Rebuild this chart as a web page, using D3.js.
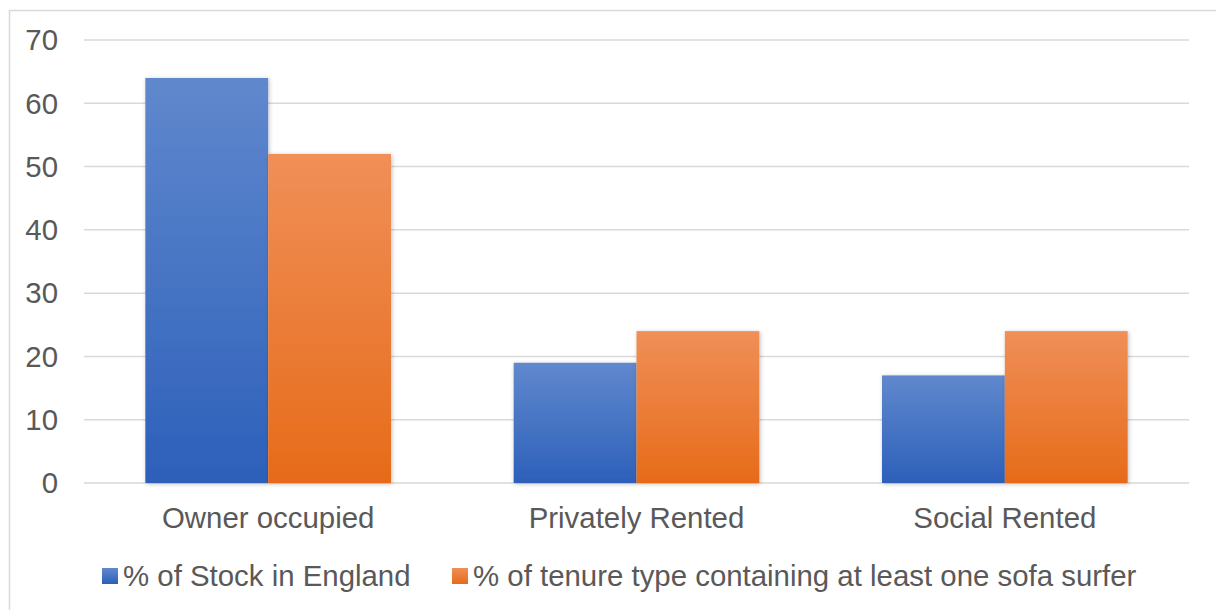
<!DOCTYPE html>
<html>
<head>
<meta charset="utf-8">
<script src="https://cdn.jsdelivr.net/npm/d3@7"></script>
<style>
  body { margin: 0; background: #fff; }
  svg { display: block; font-family: "Liberation Sans", Arial, sans-serif; }
</style>
</head>
<body>
<div id="chart"></div>
<script>
const categories = ["Owner occupied", "Privately Rented", "Social Rented"];
const seriesNames = ["% of Stock in England", "% of tenure type containing at least one sofa surfer"];
const stockValues = [64, 19, 17];
const sofaValues = [52, 24, 24];
const yTicks = [0, 10, 20, 30, 40, 50, 60, 70];

const width = 1216, height = 610;
const margin = { top: 40, right: 27, bottom: 127, left: 84 };
const fontSize = 29.4;

const svg = d3.select("#chart")
  .append("svg")
  .attr("width", width)
  .attr("height", height);

const defs = svg.append("defs");
const grads = [
  { id: "gBlue", top: "#6088cd", bottom: "#2d60ba" },
  { id: "gOrange", top: "#f08f58", bottom: "#e66b19" }
];
grads.forEach(g => {
  const lg = defs.append("linearGradient")
    .attr("id", g.id).attr("x1", 0).attr("y1", 0).attr("x2", 0).attr("y2", 1);
  lg.append("stop").attr("offset", "0%").attr("stop-color", g.top);
  lg.append("stop").attr("offset", "100%").attr("stop-color", g.bottom);
});
const shadow = defs.append("filter").attr("id", "shadow")
  .attr("x", "-10%").attr("y", "-10%").attr("width", "130%").attr("height", "130%");
shadow.append("feDropShadow").attr("dx", 1).attr("dy", 1).attr("stdDeviation", 2)
  .attr("flood-color", "#000").attr("flood-opacity", 0.25);

// outer chart border
svg.append("rect")
  .attr("x", 9.5).attr("y", 10.5)
  .attr("width", width + 20).attr("height", height + 20)
  .attr("fill", "none").attr("stroke", "#d9d9d9").attr("stroke-width", 1.5);

const x = d3.scaleBand()
  .domain(categories)
  .range([margin.left, width - margin.right])
  .paddingInner(0.333)
  .paddingOuter(0.1665);

const x1 = d3.scaleBand()
  .domain([0, 1])
  .range([0, x.bandwidth()]);

const y = d3.scaleLinear()
  .domain([0, 70])
  .range([height - margin.bottom, margin.top]);

// gridlines
svg.append("g")
  .selectAll("line")
  .data(yTicks)
  .join("line")
  .attr("x1", margin.left)
  .attr("x2", width - margin.right)
  .attr("y1", d => y(d))
  .attr("y2", d => y(d))
  .attr("stroke", "#d9d9d9")
  .attr("stroke-width", 1.5);

// y labels
svg.append("g")
  .selectAll("text")
  .data(yTicks)
  .join("text")
  .attr("x", 58)
  .attr("y", d => y(d))
  .attr("dy", "0.35em")
  .attr("text-anchor", "end")
  .attr("fill", "#595959")
  .attr("font-size", fontSize)
  .text(d => d);

const series = [stockValues, sofaValues];
const fills = ["url(#gBlue)", "url(#gOrange)"];

series.forEach((vals, si) => {
  svg.append("g")
    .selectAll("rect")
    .data(vals)
    .join("rect")
    .attr("x", (d, i) => x(categories[i]) + x1(si))
    .attr("y", d => y(d))
    .attr("width", x1.bandwidth())
    .attr("height", d => y(0) - y(d))
    .attr("fill", fills[si])
    .attr("filter", "url(#shadow)");
});

// category labels
svg.append("g")
  .selectAll("text")
  .data(categories)
  .join("text")
  .attr("x", d => x(d) + x.bandwidth() / 2)
  .attr("y", 518)
  .attr("dy", "0.35em")
  .attr("text-anchor", "middle")
  .attr("fill", "#595959")
  .attr("font-size", fontSize)
  .text(d => d);

// legend
const legendX = [102, 452];
const legend = svg.append("g");
seriesNames.forEach((name, i) => {
  legend.append("rect")
    .attr("x", legendX[i]).attr("y", 568)
    .attr("width", 16).attr("height", 16)
    .attr("fill", fills[i]);
  legend.append("text")
    .attr("x", legendX[i] + 21).attr("y", 576)
    .attr("dy", "0.35em")
    .attr("fill", "#595959")
    .attr("font-size", fontSize)
    .text(name);
});
</script>
</body>
</html>
